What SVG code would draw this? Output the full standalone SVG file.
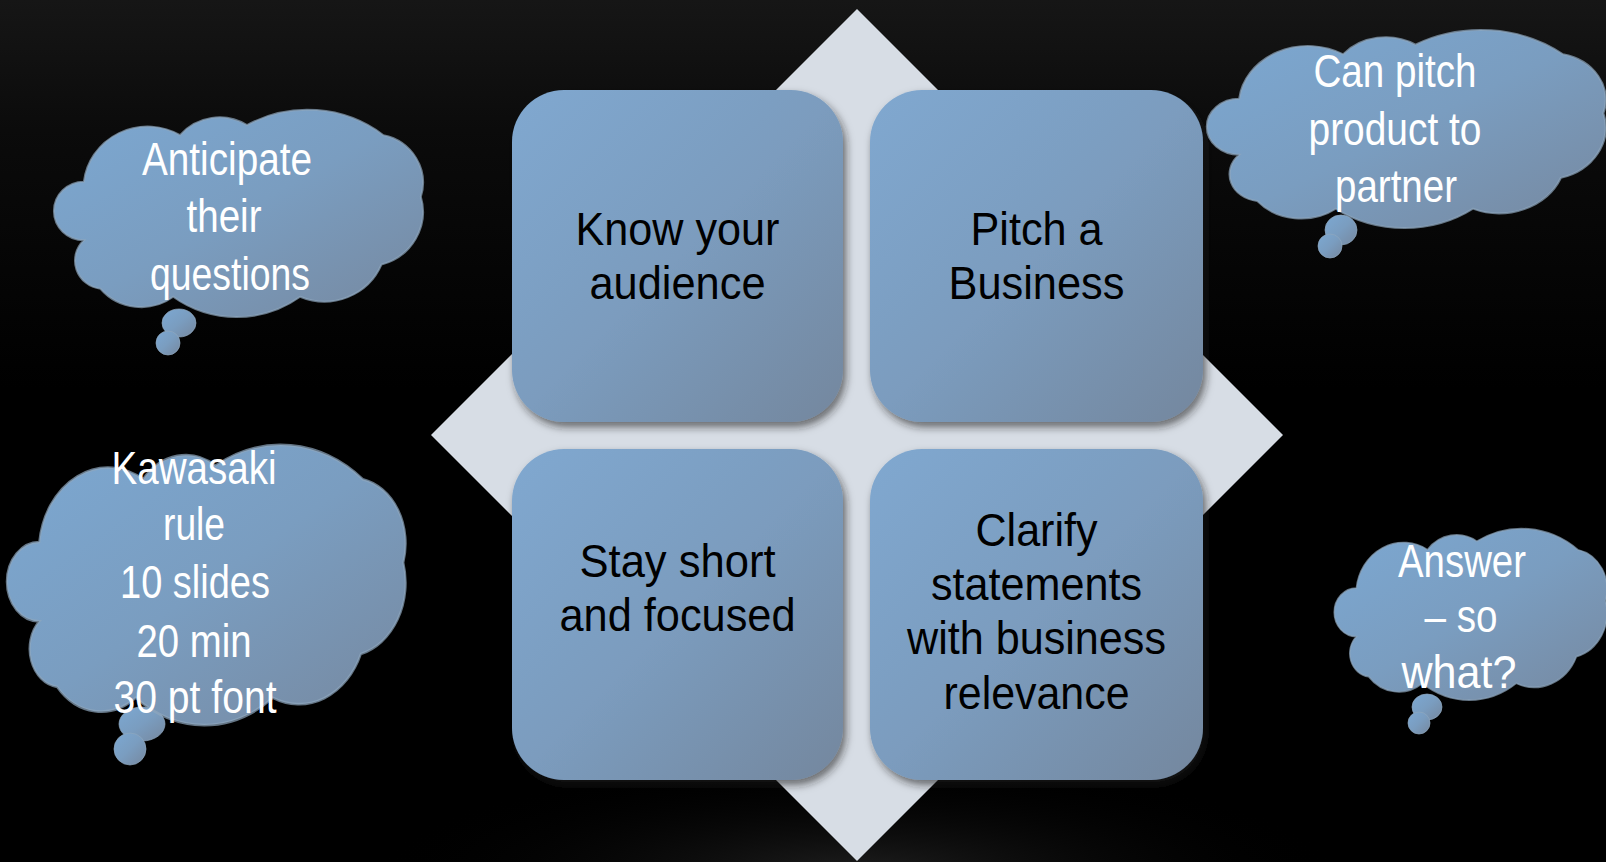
<svg xmlns="http://www.w3.org/2000/svg" xmlns:xlink="http://www.w3.org/1999/xlink" width="1606" height="862" viewBox="0 0 1606 862">
  <defs>
    <linearGradient id="bg" x1="0" y1="0" x2="0" y2="1">
      <stop offset="0" stop-color="#161616"/>
      <stop offset="0.15" stop-color="#0b0b0b"/>
      <stop offset="0.45" stop-color="#000"/>
      <stop offset="1" stop-color="#000"/>
    </linearGradient>
    <radialGradient id="glow" cx="0.5" cy="0.5" r="0.5">
      <stop offset="0" stop-color="#1e1e1e"/>
      <stop offset="1" stop-color="#000" stop-opacity="0"/>
    </radialGradient>
    <linearGradient id="boxGrad" x1="0" y1="0" x2="1" y2="1">
      <stop offset="0" stop-color="#80a8d0"/>
      <stop offset="0.5" stop-color="#7b9cbe"/>
      <stop offset="1" stop-color="#74879e"/>
    </linearGradient>
    <linearGradient id="cloudGrad" x1="0" y1="0" x2="1" y2="1">
      <stop offset="0" stop-color="#7ca8d2"/>
      <stop offset="0.5" stop-color="#7a9dc0"/>
      <stop offset="1" stop-color="#76889f"/>
    </linearGradient>
    <filter id="shadow" x="-10%" y="-10%" width="125%" height="125%">
      <feDropShadow dx="3" dy="5" stdDeviation="4" flood-color="#222" flood-opacity="0.6"/>
    </filter>
    <path id="cloudPath" d="M14,33 A31,31 0 0 1 60.5,10 A25,25 0 0 1 92.9,5 A60,60 0 0 1 158.9,10 A24,24 0 0 1 177,40.5 A27,27 0 0 1 158,74 A30,30 0 0 1 118.6,90 A52,52 0 0 1 57.2,90 A26,26 0 0 1 22,86 A14,14 0 0 1 14,62 A14.5,14.5 0 0 1 14,33 Z"/>
  </defs>
  <style>
    .box { fill: url(#boxGrad); filter: url(#shadow); }
    .cloud { fill: url(#cloudGrad); stroke: #8ea6bd; stroke-opacity: 0.7; stroke-width: 1; }
    .cloud path { vector-effect: non-scaling-stroke; }
    .bt { font-family: "Liberation Sans", Arial, sans-serif; font-size: 47px; fill: #000; text-anchor: middle; }
    .ct { font-family: "Liberation Sans", Arial, sans-serif; font-size: 46px; fill: #fff; text-anchor: middle; }
  </style>

  <rect x="0" y="0" width="1606" height="862" fill="url(#bg)"/>
  <ellipse cx="857" cy="872" rx="480" ry="110" fill="url(#glow)"/>

  <g id="diamond">
    <polygon points="857,9 1283,435 857,861 431,435" fill="#d7dde5"/>
  </g>

  <g id="connectors"/>

  <g id="box-know">
    <rect class="box" x="512" y="90" width="331" height="332" rx="52" ry="52"/>
    <text class="bt" x="677.5" y="245" textLength="204" lengthAdjust="spacingAndGlyphs">Know your</text>
    <text class="bt" x="677.5" y="299" textLength="176" lengthAdjust="spacingAndGlyphs">audience</text>
  </g>
  <g id="box-pitch">
    <rect class="box" x="870" y="90" width="333" height="332" rx="52" ry="52"/>
    <text class="bt" x="1036.5" y="245" textLength="132" lengthAdjust="spacingAndGlyphs">Pitch a</text>
    <text class="bt" x="1036.5" y="299" textLength="176" lengthAdjust="spacingAndGlyphs">Business</text>
  </g>
  <g id="box-stay">
    <rect class="box" x="512" y="449" width="331" height="331" rx="52" ry="52"/>
    <text class="bt" x="677.5" y="577" textLength="196" lengthAdjust="spacingAndGlyphs">Stay short</text>
    <text class="bt" x="677.5" y="631" textLength="236" lengthAdjust="spacingAndGlyphs">and focused</text>
  </g>
  <g id="box-clarify">
    <rect class="box" x="870" y="449" width="333" height="331" rx="52" ry="52"/>
    <text class="bt" x="1036.5" y="546" textLength="122" lengthAdjust="spacingAndGlyphs">Clarify</text>
    <text class="bt" x="1036.5" y="600" textLength="211" lengthAdjust="spacingAndGlyphs">statements</text>
    <text class="bt" x="1036.5" y="654" textLength="259" lengthAdjust="spacingAndGlyphs">with business</text>
    <text class="bt" x="1036.5" y="709" textLength="186" lengthAdjust="spacingAndGlyphs">relevance</text>
  </g>

  <g id="cloud-anticipate" class="cloud">
    <ellipse cx="179" cy="323" rx="17" ry="14"/>
    <ellipse cx="168" cy="343" rx="12" ry="12"/>
    <use xlink:href="#cloudPath" href="#cloudPath" transform="translate(55,115) scale(2.0667,2.02)"/>
    <text class="ct" x="227" y="175" textLength="170" lengthAdjust="spacingAndGlyphs" stroke="none">Anticipate</text>
    <text class="ct" x="224" y="232" textLength="75" lengthAdjust="spacingAndGlyphs" stroke="none">their</text>
    <text class="ct" x="230" y="290" textLength="160" lengthAdjust="spacingAndGlyphs" stroke="none">questions</text>
  </g>

  <g id="cloud-kawasaki" class="cloud">
    <ellipse cx="142" cy="724" rx="23" ry="17"/>
    <ellipse cx="130" cy="749" rx="16" ry="16"/>
    <use xlink:href="#cloudPath" href="#cloudPath" transform="translate(8,452) scale(2.2333,2.73)"/>
    <text class="ct" x="194" y="484" textLength="165" lengthAdjust="spacingAndGlyphs" stroke="none">Kawasaki</text>
    <text class="ct" x="194" y="540" textLength="62" lengthAdjust="spacingAndGlyphs" stroke="none">rule</text>
    <text class="ct" x="195" y="598" textLength="150" lengthAdjust="spacingAndGlyphs" stroke="none">10 slides</text>
    <text class="ct" x="194" y="657" textLength="115" lengthAdjust="spacingAndGlyphs" stroke="none">20 min</text>
    <text class="ct" x="195" y="713" textLength="163" lengthAdjust="spacingAndGlyphs" stroke="none">30 pt font</text>
  </g>

  <g id="cloud-canpitch" class="cloud">
    <ellipse cx="1341" cy="230" rx="16" ry="15"/>
    <ellipse cx="1330" cy="246" rx="12" ry="12"/>
    <use xlink:href="#cloudPath" href="#cloudPath" transform="translate(1208,35) scale(2.2333,1.93)"/>
    <text class="ct" x="1395" y="87" textLength="163" lengthAdjust="spacingAndGlyphs" stroke="none">Can pitch</text>
    <text class="ct" x="1395" y="145" textLength="173" lengthAdjust="spacingAndGlyphs" stroke="none">product to</text>
    <text class="ct" x="1396" y="202" textLength="122" lengthAdjust="spacingAndGlyphs" stroke="none">partner</text>
  </g>

  <g id="cloud-answer" class="cloud">
    <ellipse cx="1427" cy="707" rx="15" ry="13"/>
    <ellipse cx="1419" cy="723" rx="11" ry="11"/>
    <use xlink:href="#cloudPath" href="#cloudPath" transform="translate(1335,533) scale(1.5278,1.67)"/>
    <text class="ct" x="1462" y="577" textLength="128" lengthAdjust="spacingAndGlyphs" stroke="none">Answer</text>
    <text class="ct" x="1461" y="632" textLength="73" lengthAdjust="spacingAndGlyphs" stroke="none">– so</text>
    <text class="ct" x="1459" y="688" textLength="115" lengthAdjust="spacingAndGlyphs" stroke="none">what?</text>
  </g>
</svg>
